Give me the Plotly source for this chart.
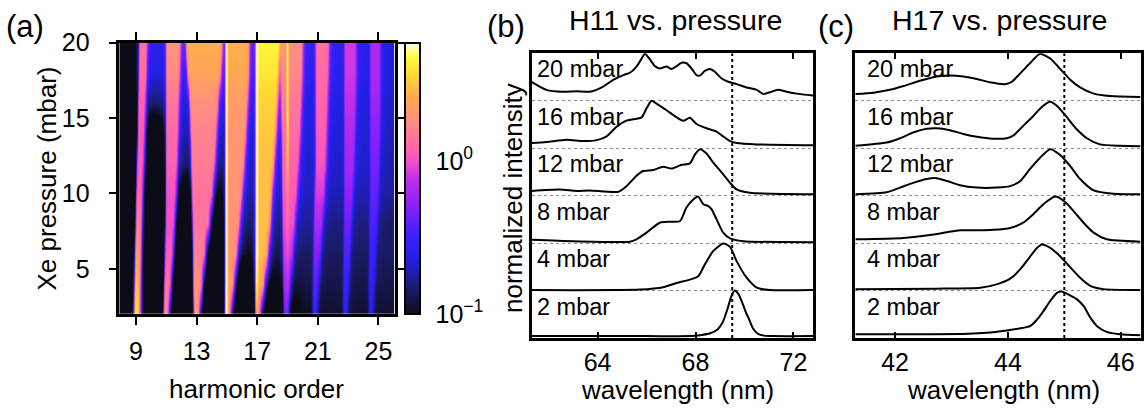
import numpy as np
import plotly.graph_objects as go

W, H = 1148, 410
FONT = "Liberation Sans, Arial, Helvetica, sans-serif"

# ---------------- panel (a): harmonic spectra vs. Xe pressure ----------------
pressure_mbar = [2, 4, 6, 8, 10, 12, 14, 16, 18, 20]
harmonic_orders = [9, 11, 13, 15, 17, 19, 21, 23, 25]

# background level (log10 intensity) at gap positions, one row per pressure
bg_order = [8, 10, 12, 14, 16, 18, 20, 22, 24, 26]
background_log = [
    [-2.0, -2.0, -2.0, -2.0, -2.0, -1.5, -1.0, -0.95, -0.95, -0.95],
    [-2.0, -2.0, -2.0, -2.0, -1.5, -1.1, -0.9, -0.9, -0.9, -0.9],
    [-2.0, -2.0, -2.0, -1.8, -1.0, -0.9, -0.85, -0.85, -0.85, -0.85],
    [-2.0, -2.0, -1.8, -1.5, -0.85, -0.85, -0.75, -0.8, -0.8, -0.85],
    [-2.0, -2.0, -1.2, -1.2, -0.75, -0.75, -0.7, -0.72, -0.72, -0.75],
    [-2.0, -1.6, -0.85, -0.9, -0.72, -0.72, -0.68, -0.68, -0.68, -0.72],
    [-2.0, -1.4, -0.75, -0.8, -0.7, -0.7, -0.66, -0.66, -0.66, -0.7],
    [-1.8, -0.85, -0.68, -0.7, -0.65, -0.66, -0.64, -0.64, -0.65, -0.68],
    [-1.4, -0.65, -0.6, -0.62, -0.6, -0.62, -0.6, -0.6, -0.62, -0.65],
    [-1.4, -0.6, -0.55, -0.58, -0.55, -0.58, -0.55, -0.58, -0.6, -0.65],
]

# broadened harmonic band: start / end (harmonic order) and level (log10) per pressure
wedge_start = {
    9:  [8.95, 8.97, 9.0, 9.04, 9.08, 9.12, 9.17, 9.2, 9.24, 9.27],
    11: [10.88, 10.93, 10.97, 11.0, 11.02, 11.03, 11.03, 11.03, 11.03, 11.03],
    13: [12.87, 12.84, 12.82, 12.78, 12.74, 12.7, 12.65, 12.6, 12.45, 12.35],
    15: [14.94, 14.95, 14.96, 14.97, 14.98, 14.98, 14.99, 14.99, 15.0, 15.0],
    17: [16.94, 16.95, 16.96, 16.96, 16.97, 16.97, 16.98, 16.98, 16.98, 16.98],
    19: [18.8, 18.78, 18.75, 18.72, 18.7, 18.68, 18.65, 18.62, 18.6, 18.6],
    21: [20.7, 20.72, 20.75, 20.8, 20.85, 20.9, 20.9, 20.9, 20.9, 20.9],
    23: [22.7, 22.72, 22.75, 22.78, 22.8, 22.8, 22.8, 22.8, 22.8, 22.8],
    25: [24.4, 24.4, 24.45, 24.45, 24.5, 24.5, 24.5, 24.5, 24.5, 24.5],
}
wedge_end = {
    9:  [9.08, 9.12, 9.17, 9.24, 9.3, 9.38, 9.44, 9.5, 9.56, 9.6],
    11: [11.0, 11.15, 11.3, 11.42, 11.52, 11.6, 11.66, 11.7, 11.75, 11.8],
    13: [13.02, 13.2, 13.42, 13.7, 13.92, 14.08, 14.18, 14.28, 14.45, 14.55],
    15: [15.08, 15.3, 15.52, 15.7, 15.85, 16.0, 16.12, 16.22, 16.3, 16.32],
    17: [17.08, 17.3, 17.52, 17.7, 17.8, 17.95, 18.08, 18.18, 18.28, 18.38],
    19: [18.93, 19.05, 19.22, 19.36, 19.5, 19.62, 19.72, 19.78, 19.84, 19.86],
    21: [20.83, 20.92, 21.05, 21.18, 21.32, 21.42, 21.47, 21.52, 21.57, 21.6],
    23: [22.83, 22.92, 23.0, 23.1, 23.18, 23.27, 23.32, 23.37, 23.4, 23.4],
    25: [24.53, 24.62, 24.7, 24.8, 24.88, 24.92, 24.97, 25.0, 25.0, 25.0],
}
wedge_log = {
    9:  [0.6, 0.45, 0.3, 0.15, 0.05, 0.0, 0.0, 0.0, 0.05, 0.05],
    11: [0.2, 0.1, 0.0, -0.05, -0.05, 0.0, 0.02, 0.05, 0.15, 0.2],
    13: [0.3, 0.25, 0.15, 0.1, 0.08, 0.1, 0.12, 0.18, 0.3, 0.35],
    15: [0.35, 0.3, 0.25, 0.22, 0.22, 0.22, 0.22, 0.25, 0.32, 0.35],
    17: [0.1, 0.35, 0.42, 0.42, 0.42, 0.42, 0.45, 0.48, 0.55, 0.58],
    19: [-0.45, -0.3, -0.2, -0.12, -0.08, -0.05, 0.0, 0.05, 0.12, 0.15],
    21: [-0.75, -0.65, -0.5, -0.35, -0.22, -0.12, -0.08, -0.05, -0.02, 0.0],
    23: [-0.85, -0.8, -0.7, -0.6, -0.5, -0.42, -0.38, -0.32, -0.28, -0.28],
    25: [-0.9, -0.85, -0.8, -0.75, -0.7, -0.62, -0.55, -0.48, -0.42, -0.42],
}
# narrow bright unshifted lines
line_pos = {15: 14.98, 17: 16.98, 19: 19.0}
line_log = {
    15: [0.55, 0.62, 0.66, 0.7, 0.72, 0.72, 0.7, 0.7, 0.68, 0.66],
    17: [0.15, 0.5, 0.65, 0.72, 0.75, 0.77, 0.77, 0.77, 0.77, 0.77],
    19: [-1.0, -1.0, -0.8, -0.5, -0.1, 0.35, 0.5, 0.55, 0.55, 0.55],
}

order_grid = np.arange(7.85, 26.12, 0.025)
z_rows = []
for i, p in enumerate(pressure_mbar):
    inten = 10 ** np.interp(order_grid, bg_order, background_log[i])
    for q in harmonic_orders:
        a, b, amp = wedge_start[q][i], wedge_end[q][i], 10 ** wedge_log[q][i]
        left = np.clip(a - order_grid, 0, None)
        right = np.clip(order_grid - b, 0, None)
        core = np.exp(-0.5 * (left / 0.04) ** 2) * np.exp(-0.5 * (right / 0.1) ** 2)
        halo = np.exp(-0.5 * (left / 0.12) ** 2) * np.exp(-0.5 * (right / 0.25) ** 2)
        inten = inten + amp * core + 0.1 * amp * halo
    for q, pos in line_pos.items():
        inten = inten + 10 ** line_log[q][i] * np.exp(-0.5 * ((order_grid - pos) / 0.045) ** 2)
    z_rows.append(np.log10(inten))
z = np.array(z_rows)

ZMIN, ZMAX = -1.0, 0.772
colorscale = [
    [0.00, "#0c0c18"], [0.10, "#1c1c70"], [0.20, "#2020e0"], [0.28, "#3a20ff"],
    [0.40, "#8a20f8"], [0.50, "#c030e8"], [0.56, "#f050c8"], [0.60, "#ff60b0"],
    [0.70, "#ff8a88"], [0.80, "#ffaa50"], [0.90, "#ffe030"], [0.95, "#ffff40"],
    [1.00, "#ffffee"],
]
colorbar_minor = [0.2, 0.3, 0.4, 0.5, 0.6, 0.7, 0.8, 0.9, 2, 3, 4, 5]

# ---------------- panel (b): H11 spectra ----------------
b_labels = ["2 mbar", "4 mbar", "8 mbar", "12 mbar", "16 mbar", "20 mbar"]
b_wl_2 = [61.3, 66.0, 67.8, 68.2, 68.6, 68.9, 69.1, 69.3, 69.45, 69.6, 69.75, 69.9, 70.05, 70.2, 70.35, 70.55, 70.8, 71.2, 72.8]
b_int_2 = [0.04, 0.04, 0.04, 0.06, 0.10, 0.18, 0.32, 0.60, 0.86, 1.0, 0.93, 0.76, 0.55, 0.38, 0.20, 0.09, 0.05, 0.04, 0.04]
b_wl_4 = [61.3, 65.73, 66.68, 67.23, 67.77, 68.11, 68.38, 68.72, 69.13, 69.41, 69.68, 70.09, 70.5, 71.04, 72.8]
b_int_4 = [0.01, 0.02, 0.07, 0.16, 0.23, 0.30, 0.55, 0.83, 0.99, 0.92, 0.62, 0.27, 0.06, 0.01, 0.01]
b_wl_8 = [61.3, 63.0, 65.32, 65.59, 66.0, 66.54, 66.95, 67.36, 67.63, 67.91, 68.11, 68.32, 68.52, 68.66, 68.86, 69.13, 69.41, 69.95, 72.8]
b_int_8 = [0.07, 0.04, 0.03, 0.08, 0.22, 0.43, 0.45, 0.46, 0.75, 0.92, 0.98, 0.82, 0.78, 0.71, 0.50, 0.22, 0.10, 0.04, 0.02]
b_wl_12 = [61.3, 62.46, 63.14, 63.68, 64.84, 65.18, 65.59, 65.86, 66.27, 66.68, 67.02, 67.43, 67.77, 67.98, 68.18, 68.45, 68.72, 69.13, 69.41, 69.68, 70.22, 72.8]
b_int_12 = [0.10, 0.13, 0.10, 0.11, 0.08, 0.20, 0.42, 0.52, 0.54, 0.61, 0.57, 0.65, 0.68, 0.87, 0.98, 0.89, 0.70, 0.45, 0.27, 0.13, 0.06, 0.03]
b_wl_16 = [61.3, 61.91, 62.73, 63.41, 63.96, 64.37, 64.77, 65.18, 65.59, 65.8, 66.0, 66.2, 66.41, 66.82, 67.23, 67.5, 67.77, 68.04, 68.45, 68.86, 69.13, 69.41, 69.68, 70.5, 72.8]
b_int_16 = [0.11, 0.13, 0.18, 0.15, 0.17, 0.25, 0.45, 0.58, 0.62, 0.65, 0.84, 1.0, 0.94, 0.80, 0.65, 0.58, 0.64, 0.51, 0.42, 0.35, 0.25, 0.15, 0.11, 0.08, 0.06]
b_wl_20 = [61.3, 61.91, 62.59, 63.14, 63.68, 64.23, 64.64, 65.05, 65.32, 65.59, 65.8, 65.93, 66.14, 66.34, 66.54, 66.82, 67.02, 67.23, 67.43, 67.63, 67.84, 68.04, 68.18, 68.38, 68.59, 68.79, 69.07, 69.34, 69.68, 70.09, 70.5, 70.77, 71.04, 71.38, 71.72, 72.13, 72.8]
b_int_20 = [0.40, 0.23, 0.19, 0.20, 0.19, 0.30, 0.44, 0.54, 0.59, 0.72, 0.89, 0.99, 0.87, 0.73, 0.68, 0.72, 0.67, 0.73, 0.80, 0.79, 0.68, 0.54, 0.53, 0.63, 0.67, 0.61, 0.47, 0.40, 0.35, 0.28, 0.23, 0.14, 0.18, 0.23, 0.19, 0.15, 0.11]
h11_wavelength = 69.5

# ---------------- panel (c): H17 spectra ----------------
c_labels = b_labels
c_wl_2 = [41.3, 42.5, 43.3, 43.62, 43.98, 44.25, 44.39, 44.51, 44.62, 44.75, 44.87, 44.95, 45.1, 45.22, 45.35, 45.45, 45.58, 45.75, 45.98, 46.35]
c_int_2 = [0.08, 0.08, 0.09, 0.11, 0.16, 0.21, 0.25, 0.38, 0.55, 0.78, 0.95, 0.98, 0.90, 0.82, 0.66, 0.45, 0.25, 0.13, 0.08, 0.06]
c_wl_4 = [41.3, 42.74, 43.51, 43.8, 44.04, 44.22, 44.39, 44.51, 44.6, 44.75, 44.92, 45.1, 45.28, 45.46, 45.69, 46.35]
c_int_4 = [0.03, 0.04, 0.06, 0.13, 0.25, 0.45, 0.71, 0.89, 0.97, 0.90, 0.73, 0.50, 0.27, 0.10, 0.03, 0.01]
c_wl_8 = [41.3, 42.15, 42.62, 42.92, 43.15, 43.45, 43.74, 44.04, 44.27, 44.45, 44.63, 44.84, 45.01, 45.16, 45.34, 45.52, 45.75, 46.35]
c_int_8 = [0.08, 0.11, 0.17, 0.23, 0.27, 0.27, 0.28, 0.32, 0.43, 0.61, 0.82, 0.98, 0.87, 0.68, 0.43, 0.22, 0.08, 0.03]
c_wl_12 = [41.3, 41.85, 42.09, 42.32, 42.56, 42.71, 42.92, 43.15, 43.45, 43.8, 44.04, 44.22, 44.39, 44.57, 44.75, 44.92, 45.1, 45.28, 45.52, 45.87, 46.35]
c_int_12 = [0.03, 0.07, 0.17, 0.27, 0.35, 0.37, 0.31, 0.22, 0.17, 0.17, 0.20, 0.31, 0.56, 0.80, 0.98, 0.86, 0.63, 0.35, 0.11, 0.04, 0.03]
c_wl_16 = [41.3, 41.85, 42.09, 42.32, 42.56, 42.74, 42.97, 43.21, 43.45, 43.74, 43.98, 44.1, 44.27, 44.45, 44.6, 44.75, 44.89, 45.04, 45.22, 45.4, 45.63, 45.99, 46.35]
c_int_16 = [0.05, 0.12, 0.21, 0.33, 0.41, 0.42, 0.38, 0.30, 0.24, 0.20, 0.21, 0.27, 0.47, 0.68, 0.87, 0.98, 0.87, 0.66, 0.40, 0.21, 0.08, 0.05, 0.04]
c_wl_20 = [41.3, 41.62, 41.91, 42.15, 42.44, 42.74, 42.97, 43.21, 43.45, 43.68, 43.95, 44.07, 44.22, 44.39, 44.57, 44.75, 44.92, 45.1, 45.28, 45.52, 45.81, 46.35]
c_int_20 = [0.14, 0.17, 0.23, 0.31, 0.42, 0.51, 0.53, 0.51, 0.46, 0.39, 0.35, 0.40, 0.58, 0.79, 0.99, 0.89, 0.68, 0.45, 0.28, 0.15, 0.10, 0.08]
h17_wavelength = 45.0

b_series = [(b_wl_2, b_int_2), (b_wl_4, b_int_4), (b_wl_8, b_int_8),
            (b_wl_12, b_int_12), (b_wl_16, b_int_16), (b_wl_20, b_int_20)]
c_series = [(c_wl_2, c_int_2), (c_wl_4, c_int_4), (c_wl_8, c_int_8),
            (c_wl_12, c_int_12), (c_wl_16, c_int_16), (c_wl_20, c_int_20)]


def px_x(v):
    return v / W


def px_y(v):
    return 1 - v / H


CB_X0, CB_X1, CB_TOP, CB_BOT = 405, 420, 43, 314

fig = go.Figure()

fig.add_trace(go.Heatmap(
    x=order_grid, y=pressure_mbar, z=z, zmin=ZMIN, zmax=ZMAX, zsmooth="best",
    colorscale=colorscale, xaxis="x", yaxis="y", hoverinfo="skip",
    colorbar=dict(
        x=px_x(CB_X0), xanchor="left", xpad=0, ypad=0, y=px_y(CB_BOT), yanchor="bottom",
        len=(CB_BOT - CB_TOP) / H, lenmode="fraction", thickness=CB_X1 - CB_X0, thicknessmode="pixels",
        outlinecolor="black", outlinewidth=2,
        tickvals=[-0.999, 0], ticktext=["10<sup>−1</sup>", "10<sup>0</sup>"],
        ticks="outside", ticklen=10, tickcolor="rgba(0,0,0,0)",
        tickfont=dict(family=FONT, size=25, color="black"),
    ),
))

for k, (wl, inten) in enumerate(b_series):
    fig.add_trace(go.Scatter(x=wl, y=[v + k for v in inten], mode="lines",
                             line=dict(color="black", width=2, shape="spline", smoothing=0.6),
                             xaxis="x2", yaxis="y2", hoverinfo="skip", showlegend=False))
for k, (wl, inten) in enumerate(c_series):
    fig.add_trace(go.Scatter(x=wl, y=[v + k for v in inten], mode="lines",
                             line=dict(color="black", width=2, shape="spline", smoothing=0.6),
                             xaxis="x3", yaxis="y3", hoverinfo="skip", showlegend=False))

axis_common = dict(showline=True, linecolor="black", linewidth=2.5, zeroline=False,
                   tickfont=dict(family=FONT, size=25, color="black"), tickcolor="black")

fig.update_layout(
    width=W, height=H, margin=dict(l=0, r=0, t=0, b=0, autoexpand=False),
    paper_bgcolor="white", plot_bgcolor="white", showlegend=False,
    font=dict(family=FONT, color="black"),
    xaxis=dict(domain=[px_x(119.3), px_x(394.5)], range=[7.9, 26.06], tickvals=[9, 13, 17, 21, 25],
               ticks="outside", ticklen=8, tickwidth=2, mirror="ticks", showgrid=False,
               ticklabelstandoff=5, anchor="y", **axis_common),
    yaxis=dict(domain=[px_y(314), px_y(42.7)], range=[2, 20], tickvals=[5, 10, 15, 20],
               ticks="outside", ticklen=8, tickwidth=2, mirror="ticks", showgrid=False,
               ticklabelstandoff=14, anchor="x", **axis_common),
    xaxis2=dict(domain=[px_x(531.5), px_x(813)], range=[61.3, 72.8], tickvals=[64, 68, 72],
                ticks="inside", ticklen=6, tickwidth=2, mirror="ticks", showgrid=False,
                ticklabelstandoff=0, anchor="y2", **axis_common),
    yaxis2=dict(domain=[px_y(338), px_y(53.3)], range=[0, 6], tickvals=[1, 2, 3, 4, 5],
                showticklabels=False, ticks="", mirror=True, showgrid=True,
                gridcolor="#8a8a8a", griddash="dot", gridwidth=1, anchor="x2",
                showline=True, linecolor="black", linewidth=2.5, zeroline=False),
    xaxis3=dict(domain=[px_x(855), px_x(1140.5)], range=[41.29, 46.35], tickvals=[42, 44, 46],
                ticks="inside", ticklen=6, tickwidth=2, mirror="ticks", showgrid=False,
                ticklabelstandoff=0, anchor="y3", **axis_common),
    yaxis3=dict(domain=[px_y(338), px_y(53.3)], range=[0, 6], tickvals=[1, 2, 3, 4, 5],
                showticklabels=False, ticks="", mirror=True, showgrid=True,
                gridcolor="#8a8a8a", griddash="dot", gridwidth=1, anchor="x3",
                showline=True, linecolor="black", linewidth=2.5, zeroline=False),
)

fig.add_shape(type="line", xref="x2", yref="y2", x0=h11_wavelength, x1=h11_wavelength, y0=0, y1=6,
              line=dict(color="black", width=2, dash="dot"))
fig.add_shape(type="line", xref="x3", yref="y3", x0=h17_wavelength, x1=h17_wavelength, y0=0, y1=6,
              line=dict(color="black", width=2, dash="dot"))

# minor log ticks (dots) along both edges of the colour bar
for v in colorbar_minor:
    frac = (np.log10(v) - ZMIN) / (ZMAX - ZMIN)
    ypx = CB_BOT - frac * (CB_BOT - CB_TOP)
    for xa, xb in [(CB_X0 + 1, CB_X0 + 4), (CB_X1 - 4, CB_X1 - 1)]:
        fig.add_shape(type="line", xref="paper", yref="paper", x0=px_x(xa), x1=px_x(xb),
                      y0=px_y(ypx), y1=px_y(ypx), line=dict(color="black", width=2))

ann = []


def text(s, x, y, size, xanchor="center", yanchor="middle", angle=0, xref="paper", yref="paper"):
    ann.append(dict(text=s, x=x, y=y, xref=xref, yref=yref, xanchor=xanchor, yanchor=yanchor,
                    showarrow=False, textangle=angle, font=dict(family=FONT, size=size, color="black")))


for k, lab in enumerate(b_labels):
    text(lab, 0.014, k + 0.66, 23.5, xanchor="left", xref="x2 domain", yref="y2")
for k, lab in enumerate(c_labels):
    text(lab, 0.036, k + 0.66, 23.5, xanchor="left", xref="x3 domain", yref="y3")

text("(a)", px_x(4), px_y(26), 31, xanchor="left")
text("(b)", px_x(506), px_y(26), 31)
text("(c)", px_x(835.5), px_y(26), 31)
text("H11 vs. pressure", px_x(675.5), px_y(20), 28.5)
text("H17 vs. pressure", px_x(1000), px_y(20), 28.5)
text("harmonic order", px_x(256), px_y(389), 26)
text("Xe pressure (mbar)", px_x(47), px_y(178.5), 26, angle=-90)
text("normalized intensity", px_x(513), px_y(198), 26, angle=-90)
text("wavelength (nm)", px_x(677), px_y(390), 26)
text("wavelength (nm)", px_x(1003), px_y(390), 26)

fig.update_layout(annotations=ann)
fig.write_html("out.html")
